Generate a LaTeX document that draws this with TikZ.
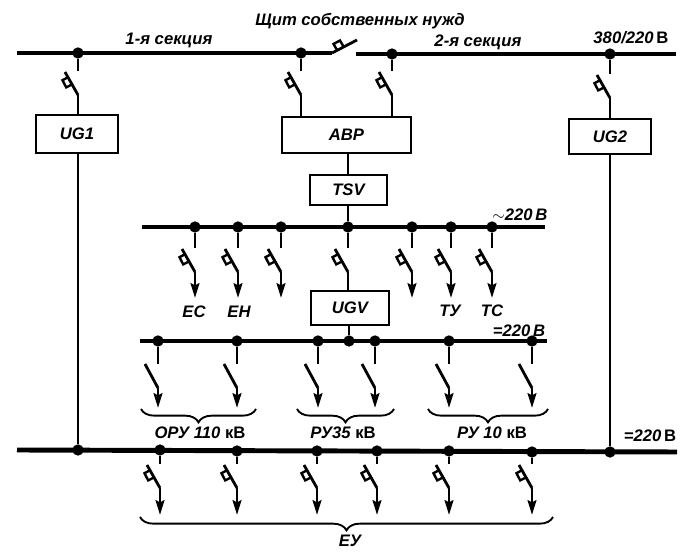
\documentclass[tikz,border=0pt]{standalone}
\usepackage{fontspec}
\setmainfont{Liberation Sans}
\usetikzlibrary{arrows.meta, decorations.pathreplacing}

\begin{document}
\begin{tikzpicture}[
    x=0.75pt, y=-0.75pt,
    % Line styles
    bus/.style={line width=3.7pt},
    wire/.style={line width=2.1pt},
    feed/.style={wire, -{Stealth[length=11pt, width=6.5pt, inset=1.5pt]}},
    curly/.style={line width=1.4pt, decorate, decoration={brace, mirror, amplitude=10pt}},
    % Node styles
    dot/.style={circle, fill=black, inner sep=0pt, minimum size=8.5pt},
    unit/.style={draw, line width=1.8pt, inner sep=0pt, font=\bfseries\itshape\fontsize{12.5}{14}\selectfont},
    lbl/.style={inner sep=0pt, font=\bfseries\itshape\fontsize{12.5}{14}\selectfont},
    % Switches
    qsw/.pic={
        \coordinate (-stub) at (0, -24);
        \coordinate (-out) at (0, 0);
        \draw[wire] (-13, -23) -- (0, 0);
        \draw[wire, line width=1.8pt] (-9.5, -18) -- (-15.5, -14.8) -- (-11.8, -7.6) -- (-5.5, -10.8);
    },
    nsw/.pic={
        \coordinate (-stub) at (0, -24);
        \coordinate (-out) at (0, 0);
        \draw[wire] (-13, -24) -- (0, 0);
    },
]
\useasboundingbox (0, 0) rectangle (690, 555);

% === BUSES ===
\coordinate (s1a) at (17, 53);
\coordinate (s1b) at (332, 53);
\coordinate (s2a) at (356, 54);
\coordinate (s2b) at (676, 54);
\coordinate (tie) at (357, 40);
\coordinate (acl) at (142, 227);
\coordinate (acr) at (545, 227);
\coordinate (dcl) at (140, 341);
\coordinate (dcr) at (547, 341);
\coordinate (mainl) at (17, 450);
\coordinate (mainr) at (677, 452);
\draw[bus] (s1a) -- (s1b);
\draw[bus] (s2a) -- (s2b);
\draw[bus] (acl) -- (acr);
\draw[bus] (dcl) -- (dcr);
\draw[bus] (mainl) -- (mainr);

% Section breaker
\draw[wire] (s1b) -- (tie);
\draw[wire, line width=1.8pt] (337, 50) -- (333.5, 44) -- (340, 40.5) -- (343.5, 46.5);

% === TOP FEEDS ===
\node[dot] (d1) at (78, 53) {};
\node[dot] (d2) at (301, 53) {};
\node[dot] (d3) at (392, 54) {};
\node[dot] (d4) at (610, 54) {};

\node[unit, minimum width=61.5pt, minimum height=28.5pt] (ug1) at (77, 134) {UG1};
\node[unit, minimum width=96.75pt, minimum height=27pt] (abp) at (346.5, 135) {АВР};
\node[unit, minimum width=61.5pt, minimum height=26.25pt] (ug2) at (610, 136.5) {UG2};
\node[unit, minimum width=57.75pt, minimum height=22.5pt] (tsv) at (348.5, 190) {TSV};
\node[unit, minimum width=58.5pt, minimum height=25.5pt] (ugv) at (350, 308) {UGV};

\pic (q1) at (78, 95) {qsw};
\pic (q2) at (301, 95) {qsw};
\pic (q3) at (392, 95) {qsw};
\pic (q4) at (610, 98) {qsw};
\draw[wire] (d1) -- (q1-stub);
\draw[wire] (d2) -- (q2-stub);
\draw[wire] (d3) -- (q3-stub);
\draw[wire] (d4) -- (q4-stub);
\draw[wire] (q1-out) -- (q1-out |- ug1.north);
\draw[wire] (q2-out) -- (q2-out |- abp.north);
\draw[wire] (q3-out) -- (q3-out |- abp.north);
\draw[wire] (q4-out) -- (q4-out |- ug2.north);

% === 220 V AC BUS ===
\node[dot] (ac4) at (348, 227) {};
\draw[wire] (ac4 |- abp.south) -- (ac4 |- tsv.north);
\draw[wire] (ac4 |- tsv.south) -- (ac4);
\pic (acq4) at (348, 272) {qsw};
\draw[wire] (ac4) -- (acq4-stub);
\draw[wire] (acq4-out) -- (acq4-out |- ugv.north);
\foreach \n/\px in {1/195, 2/238, 3/281, 5/412, 6/451, 7/492} {
    \node[dot] (ac\n) at (\px, 227) {};
    \pic (acq\n) at (\px, 272) {qsw};
    \coordinate (act\n) at (\px, 298);
    \draw[wire] (ac\n) -- (acq\n-stub);
    \draw[feed] (acq\n-out) -- (act\n);
}
\node[lbl] (ec) at (194, 312) {ЕС};
\node[lbl] (eh) at (239, 312) {ЕН};
\node[lbl] (ty) at (450, 311) {ТУ};
\node[lbl] (tc) at (492, 311) {ТС};

% === 220 V DC BUS ===
\node[dot] (dcm) at (349, 341) {};
\draw[wire] (dcm |- ugv.south) -- (dcm);
\foreach \n/\px in {1/158, 2/237, 3/318, 4/375, 5/449, 6/532} {
    \node[dot] (dc\n) at (\px, 341) {};
    \pic (dcq\n) at (\px, 388) {nsw};
    \coordinate (dct\n) at (\px, 408);
    \draw[wire] (dc\n) -- (dcq\n-stub);
    \draw[feed] (dcq\n-out) -- (dct\n);
}

% Groups
\coordinate (b1l) at (141, 409);
\coordinate (b1r) at (256, 409);
\coordinate (b2l) at (297, 409);
\coordinate (b2r) at (394, 409);
\coordinate (b3l) at (428, 409);
\coordinate (b3r) at (548, 409);
\draw[curly] (b1l) -- (b1r);
\draw[curly] (b2l) -- (b2r);
\draw[curly] (b3l) -- (b3r);
\node[lbl] (oru) at (200, 433) {ОРУ 110 {\upshape кВ}};
\node[lbl] (ru35) at (343, 433) {РУ35 {\upshape кВ}};
\node[lbl] (ru10) at (492, 433) {РУ 10 {\upshape кВ}};

% === MAIN BUS ===
\node[dot] (m0) at (78, 450) {};
\node[dot] (m7) at (610, 452) {};
\draw[wire] (m0 |- ug1.south) -- (m0);
\draw[wire] (m7 |- ug2.south) -- (m7);
\foreach \n/\px/\py in {1/160/450, 2/237/451, 3/317/451, 4/377/451, 5/449/451, 6/532/452} {
    \node[dot] (m\n) at (\px, \py) {};
    \pic (mq\n) at (\px, 488) {qsw};
    \coordinate (mt\n) at (\px, 515);
    \draw[wire] (m\n) -- (mq\n-stub);
    \draw[feed] (mq\n-out) -- (mt\n);
}
\coordinate (eul) at (140, 517);
\coordinate (eur) at (553, 517);
\draw[curly] (eul) -- (eur);
\node[lbl] (eu) at (350, 541) {ЕУ};

% === TITLES ===
\node[lbl] (title) at (360, 21) {Щит собственных нужд};
\node[lbl] (sec1) at (169, 40) {1-я секция};
\node[lbl] (sec2) at (478, 42) {2-я секция};
\node[lbl] (v380) at (631, 38) {380/220\,{\upshape В}};
\node[lbl] (vac) at (520, 215) {$\sim$220\,В};
\node[lbl] (vdc) at (519, 331) {=220\,В};
\node[lbl] (vmain) at (650, 436) {=220\,{\upshape В}};

\end{tikzpicture}
\end{document}
